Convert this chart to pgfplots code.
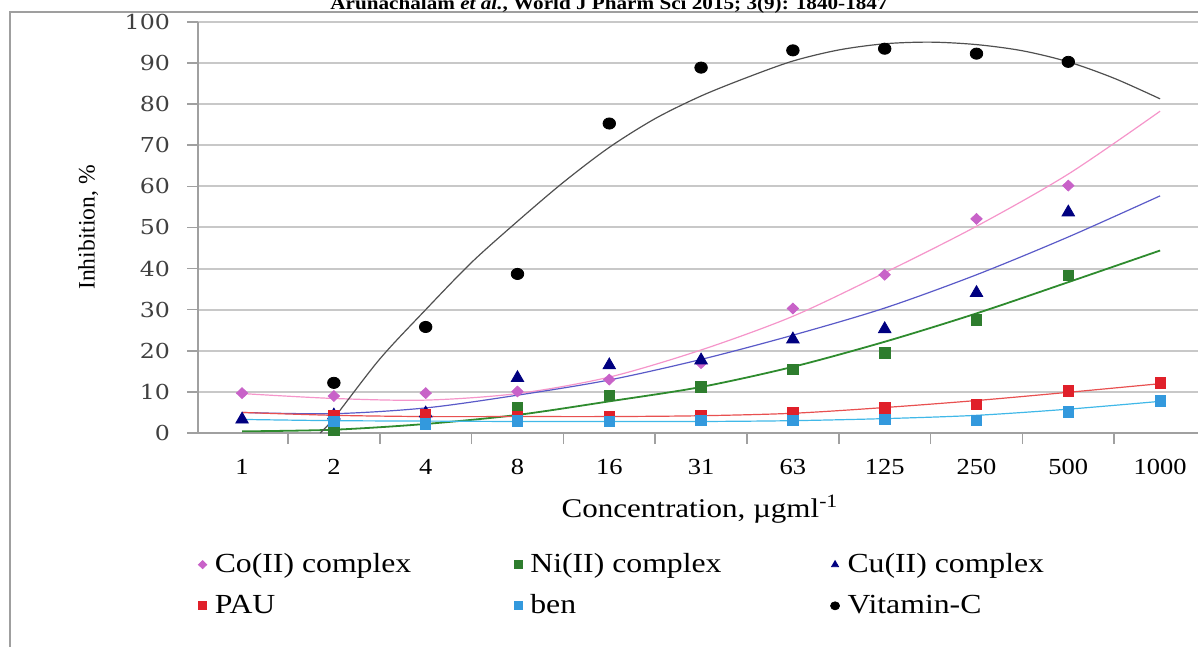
\documentclass[border=0pt]{standalone}
\usepackage{fontspec}
\setmainfont{Liberation Serif}[FakeStretch=1.15]
\newfontfamily\plainserif{Liberation Serif}
\newfontfamily\yfont{DejaVu Serif}[FakeStretch=1.15]
\usepackage{pgfplots}
\pgfplotsset{compat=1.18}
\definecolor{coM}{HTML}{C862C8}
\definecolor{coL}{HTML}{F595CA}
\definecolor{niM}{HTML}{2E7D2E}
\definecolor{niL}{HTML}{2E8B2E}
\definecolor{cuM}{HTML}{000080}
\definecolor{cuL}{HTML}{5A5AC8}
\definecolor{pauM}{HTML}{E0202A}
\definecolor{pauL}{HTML}{E85050}
\definecolor{benM}{HTML}{3399DD}
\definecolor{benL}{HTML}{40B8E8}
\definecolor{vitL}{HTML}{505050}
\definecolor{gridc}{HTML}{C8C8C8}
\definecolor{axc}{HTML}{A0A0A0}
\begin{document}
\begin{tikzpicture}
\begin{axis}[
 at={(99pt,107pt)}, anchor=south west,
 scale only axis, width=504pt, height=205.5pt,
 xmin=-0.48, xmax=10.5, ymin=0, ymax=100,
 clip=false,
 axis x line*=bottom, axis y line*=left,
 axis line style={axc, line width=0.8pt},
 ymajorgrids, grid style={gridc, line width=1pt},
 ytick={0,10,...,100},
 xtick={0,...,10},
 xticklabels={1,2,4,8,16,31,63,125,250,500,1000},
 minor xtick={0.5,1.5,...,9.5},
 tick align=outside,
 major tick length=5.5pt, minor tick length=5.5pt,
 major x tick style={draw=none},
 major y tick style={axc, line width=0.8pt},
 minor x tick style={axc, line width=0.8pt},
 /pgf/number format/assume math mode=true,
 yticklabel style={font=\yfont\fontsize{10.3}{12}\selectfont, text=black!75, xshift=-5pt},
 xticklabel style={font=\fontsize{11.5}{13}\selectfont, yshift=-4pt},
 xlabel={Concentration, µgml\textsuperscript{-1}},
 xlabel style={at={(axis description cs:0.498,-0.185)}, anchor=center, font=\fontsize{13.5}{15}\selectfont},
 ylabel={Inhibition, \%},
 ylabel style={at={(axis description cs:-0.109,0.5)}, anchor=center, font=\plainserif\fontsize{11.8}{14}\selectfont},
 legend columns=3,
 legend cell align=left,
 legend image code/.code={\draw[#1, mark size=2pt] plot coordinates {(0pt,0pt)};},
 legend style={at={(axis description cs:0,-0.29)}, anchor=north west, draw=none, fill=none,
   font=\fontsize{13.8}{15}\selectfont, inner sep=0pt, row sep=8.5pt,
   nodes={inner sep=0.5pt},
   /tikz/column 1/.style={column sep=3.5pt},
   /tikz/column 3/.style={column sep=3.5pt},
   /tikz/column 5/.style={column sep=3.5pt},
   /tikz/column 2/.style={column sep=51pt},
   /tikz/column 4/.style={column sep=54pt}},
]
% trendlines
\addplot[forget plot, smooth, coL, line width=0.6pt] coordinates {(0,9.6)(1,8.4)(2,8.0)(3,9.6)(4,13.6)(5,20.2)(6,28.4)(7,39.0)(8,50.3)(9,63.0)(10,78.3)};
\addplot[forget plot, smooth, niL, line width=0.9pt] coordinates {(0,0.4)(1,0.8)(2,2.2)(3,4.4)(4,7.7)(5,11.2)(6,16.1)(7,22.2)(8,29.1)(9,36.7)(10,44.4)};
\addplot[forget plot, smooth, cuL, line width=0.6pt] coordinates {(0,5.0)(1,4.7)(2,6.1)(3,9.2)(4,12.9)(5,17.9)(6,23.8)(7,30.4)(8,38.5)(9,47.7)(10,57.7)};
\addplot[forget plot, smooth, pauL, line width=0.6pt] coordinates {(0,5.0)(1,4.3)(2,4.0)(3,4.0)(4,4.0)(5,4.2)(6,4.8)(7,6.2)(8,7.9)(9,9.9)(10,12.0)};
\addplot[forget plot, smooth, benL, line width=0.6pt] coordinates {(0,3.3)(1,3.0)(2,2.9)(3,2.8)(4,2.8)(5,2.8)(6,3.0)(7,3.5)(8,4.3)(9,5.8)(10,7.7)};
\addplot[forget plot, smooth, vitL, line width=0.6pt] coordinates {(0.85,0)(1,3.6)(1.5,18)(2,30)(2.5,41.5)(3,51.5)(3.5,61)(4,69.5)(4.5,76.5)(5,82)(5.5,86.5)(6,90.5)(6.5,93.2)(7,94.7)(7.5,95.1)(8,94.5)(8.5,93)(9,90.3)(9.5,86.3)(10,81.3)};
% data
\addplot[only marks, mark=diamond*, mark size=2.7pt, mark options={draw=coM, fill=coM, xscale=1.4}] coordinates {(0,9.7)(1,9.0)(2,9.7)(3,10.1)(4,13.0)(5,17.0)(6,30.3)(7,38.5)(8,52.1)(9,60.2)};
\addlegendentry{Co(II) complex}
\addplot[only marks, mark=square*, mark size=2.6pt, mark options={draw=niM, fill=niM}] coordinates {(1,0.6)(2,2.3)(3,6.3)(4,9.1)(5,11.2)(6,15.5)(7,19.5)(8,27.5)(9,38.3)};
\addlegendentry{Ni(II) complex}
\addplot[only marks, mark=triangle*, mark size=3.6pt, mark options={draw=cuM, fill=cuM}] coordinates {(0,3.3)(1,4.3)(2,4.8)(3,13.4)(4,16.5)(5,17.7)(6,22.8)(7,25.3)(8,34.1)(9,53.7)};
\addlegendentry{Cu(II) complex}
\addplot[only marks, mark=square*, mark size=2.6pt, mark options={draw=pauM, fill=pauM}] coordinates {(1,4.2)(2,4.4)(3,3.9)(4,4.0)(5,4.3)(6,5.0)(7,6.1)(8,7.0)(9,10.2)(10,12.2)};
\addlegendentry{PAU}
\addplot[only marks, mark=square*, mark size=2.6pt, mark options={draw=benM, fill=benM}] coordinates {(1,2.75)(2,2.25)(3,2.9)(4,2.75)(5,3.1)(6,3.1)(7,3.25)(8,3.1)(9,5.1)(10,7.8)};
\addlegendentry{ben}
\addplot[only marks, mark=*, mark size=2.8pt, mark options={draw=black, fill=black, xscale=1.12}] coordinates {(1,12.2)(2,25.8)(3,38.7)(4,75.3)(5,88.9)(6,93.1)(7,93.5)(8,92.3)(9,90.3)};
\addlegendentry{Vitamin-C}
\end{axis}
\draw[gray!75, line width=1.2pt] (5pt,0) -- (5pt,317.5pt) -- (600pt,317.5pt);
\node[anchor=base, font=\bfseries\fontsize{9.2}{10}\selectfont, inner sep=0pt] at (304.5pt,318.8pt) {Arunachalam \textit{et al.}, World J Pharm Sci 2015; 3(9): 1840-1847};
\pgfresetboundingbox
\useasboundingbox (0,0) rectangle (599pt,323.5pt);
\end{tikzpicture}
\end{document}
